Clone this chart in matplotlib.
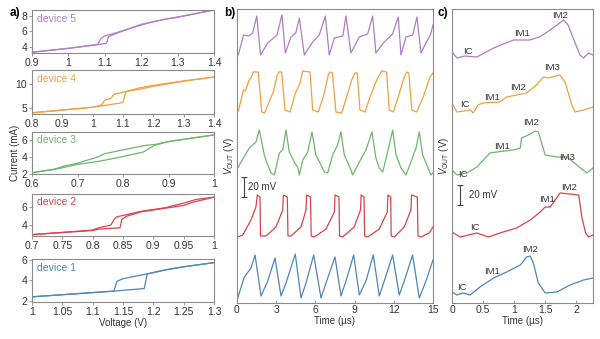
import matplotlib
matplotlib.use("Agg")
import matplotlib.pyplot as plt

plt.rcParams["font.family"] = ["Liberation Sans", "DejaVu Sans"]
plt.rcParams["mathtext.fontset"] = "custom"
plt.rcParams["mathtext.rm"] = "Liberation Sans"
plt.rcParams["mathtext.it"] = "Liberation Sans:italic"

COLORS = ["#4f86b3", "#d9434b", "#6fb56c", "#efa03f", "#b07cc6"]  # device 1..5
SPINE = "#8a8a8a"
TXT = "#333333"

# ---- panel a: I-V hysteresis loops (V, mA) ----
A_XLIM = [(1.0, 1.3), (0.7, 1.0), (0.6, 1.0), (0.8, 1.4), (0.9, 1.4)]
A_YLIM = [(1.9, 6.05), (2.8, 7.4), (1.95, 7.0), (3.65, 13.1), (3.2, 8.75)]
A_XTICKS = [
    [1.0, 1.05, 1.1, 1.15, 1.2, 1.25, 1.3],
    [0.7, 0.75, 0.8, 0.85, 0.9, 0.95, 1.0],
    [0.6, 0.7, 0.8, 0.9, 1.0],
    [0.8, 0.9, 1.0, 1.1, 1.2, 1.3, 1.4],
    [0.9, 1.0, 1.1, 1.2, 1.3, 1.4],
]
A_YTICKS = [[2, 4, 6], [4, 6], [2, 4, 6], [5, 10], [4, 6, 8]]

DEV1_FWD = [(1.0, 2.4), (1.135, 2.95), (1.185, 3.2), (1.19, 4.6), (1.22, 5.0), (1.25, 5.3), (1.3, 5.7)]
DEV1_REV = [(1.3, 5.7), (1.25, 5.3), (1.22, 5.0), (1.19, 4.62), (1.15, 4.15), (1.14, 3.9),
            (1.135, 2.95), (1.0, 2.4)]
DEV2_FWD = [(0.7, 2.95), (0.8, 3.4), (0.81, 3.55), (0.845, 3.7), (0.848, 4.6), (0.855, 4.95),
            (0.88, 5.45), (0.92, 5.85), (0.95, 6.15), (0.965, 6.5), (1.0, 7.05)]
DEV2_REV = [(1.0, 7.05), (0.97, 6.8), (0.95, 6.4), (0.92, 5.9), (0.88, 5.5), (0.86, 5.2),
            (0.84, 4.9), (0.836, 4.7), (0.83, 4.0), (0.81, 3.7), (0.8, 3.45), (0.7, 2.95)]
DEV3_FWD = [(0.6, 2.1), (0.65, 2.5), (0.7, 3.1), (0.75, 3.5), (0.8, 4.05), (0.845, 4.6),
            (0.86, 5.1), (0.87, 5.4), (0.9, 5.85), (1.0, 6.65)]
DEV3_REV = [(1.0, 6.65), (0.9, 5.85), (0.87, 5.5), (0.85, 5.4), (0.8, 4.85), (0.76, 4.4),
            (0.745, 4.0), (0.7, 3.25), (0.67, 2.9), (0.65, 2.55), (0.6, 2.1)]
DEV4_FWD = [(0.8, 3.9), (1.0, 5.1), (1.04, 5.5), (1.09, 6.0), (1.1, 6.2), (1.11, 8.5),
            (1.15, 8.9), (1.2, 9.6), (1.3, 10.7), (1.4, 11.6)]
DEV4_REV = [(1.4, 11.6), (1.3, 10.75), (1.22, 10.0), (1.2, 9.8), (1.15, 9.2), (1.1, 8.3),
            (1.07, 7.9), (1.06, 7.0), (1.04, 6.6), (1.03, 5.6), (1.0, 5.1), (0.8, 3.9)]
DEV5_FWD = [(0.9, 3.3), (1.0, 3.8), (1.085, 4.3), (1.105, 4.45), (1.11, 5.3), (1.13, 5.7),
            (1.2, 6.9), (1.24, 7.3), (1.27, 7.6), (1.3, 7.8), (1.4, 8.75)]
DEV5_REV = [(1.4, 8.75), (1.3, 7.85), (1.26, 7.5), (1.23, 7.2), (1.2, 6.8), (1.13, 5.8),
            (1.1, 5.4), (1.09, 5.1), (1.08, 4.3), (1.0, 3.8), (0.9, 3.3)]
A_LOOPS = [(DEV1_FWD, DEV1_REV), (DEV2_FWD, DEV2_REV), (DEV3_FWD, DEV3_REV),
           (DEV4_FWD, DEV4_REV), (DEV5_FWD, DEV5_REV)]

# ---- panel b: oscillation traces over 15 us (mV above each trace's baseline) ----
B_DEV1 = [(0.05, 0), (0.56, 21), (1.07, 30), (1.38, 43), (1.84, 2), (2.35, 17), (2.91, 40),
          (3.37, 2), (3.75, 15), (4.46, 44), (4.9, 0), (5.28, 15), (5.87, 43), (6.43, 0),
          (6.81, 15), (7.5, 41), (7.96, 2), (8.34, 17), (8.93, 43), (9.36, 3), (9.87, 17),
          (10.43, 43), (10.89, 2), (11.27, 17), (11.91, 43), (12.42, 3), (12.8, 17),
          (13.44, 43), (13.95, 0), (14.46, 17), (15.0, 38)]
B_DEV2 = [(0.05, 0), (0.44, 2), (1.07, 17), (1.45, 30), (1.55, 42), (1.76, 40), (1.8, 1),
          (2.22, 1), (2.98, 10), (3.5, 27), (3.55, 42), (3.85, 40), (3.9, 1), (4.13, 1),
          (4.9, 10), (5.28, 27), (5.33, 42), (5.62, 40), (5.68, 1), (5.92, 0), (6.81, 8),
          (7.45, 25), (7.5, 42), (7.8, 40), (7.85, 1), (8.09, 0), (8.97, 10), (9.45, 27),
          (9.5, 42), (9.72, 40), (9.77, 1), (10.0, 0), (10.89, 8), (11.5, 25), (11.55, 42),
          (11.76, 40), (11.8, 1), (12.04, 0), (12.8, 10), (13.31, 27), (13.36, 42),
          (13.8, 40), (13.85, 1), (14.08, 0), (14.71, 4), (15.0, 10)]
B_DEV3 = [(0.05, 7), (0.94, 27), (1.45, 33), (1.71, 45), (2.09, 20), (2.35, 10), (2.6, 2),
          (2.86, 0), (3.24, 22), (3.5, 25), (3.75, 45), (4.0, 23), (4.38, 13), (4.64, 8),
          (4.77, 0), (5.03, 15), (5.41, 23), (5.74, 43), (6.04, 20), (6.43, 10), (6.68, 3),
          (6.94, 2), (7.32, 20), (7.7, 30), (7.96, 43), (8.21, 20), (8.72, 5), (8.85, 0),
          (9.36, 13), (9.87, 25), (10.33, 43), (10.63, 17), (10.89, 7), (11.15, 3),
          (11.53, 23), (11.91, 45), (12.17, 20), (12.55, 7), (12.93, 0), (13.31, 13),
          (13.7, 27), (13.95, 43), (14.21, 20), (14.59, 8), (14.84, 0), (15.0, 2)]
B_DEV4 = [(0.1, 2), (0.5, 23), (0.65, 22), (0.9, 32), (1.1, 36), (1.25, 41), (1.63, 41),
          (1.89, 1), (2.1, 0), (2.52, 13), (2.78, 21), (3.04, 36), (3.2, 41), (3.42, 41),
          (3.67, 3), (4.06, 1), (4.44, 19), (4.82, 30), (5.03, 42), (5.59, 41), (5.79, 3),
          (6.22, 1), (6.6, 16), (6.99, 38), (7.12, 41), (7.3, 40), (7.57, 1), (8.01, 0),
          (8.39, 16), (8.78, 33), (9.03, 40), (9.2, 40), (9.41, 3), (9.8, 1), (10.18, 16),
          (10.69, 33), (11.07, 42), (11.45, 41), (11.65, 3), (11.96, 1), (12.34, 16),
          (12.73, 33), (12.98, 41), (13.15, 40), (13.37, 3), (13.75, 1), (14.25, 16),
          (14.77, 36), (15.0, 40)]
B_DEV5 = [(0.1, 0), (0.5, 20), (0.9, 19), (1.2, 22), (1.51, 39), (1.8, 0), (2.35, 12),
          (3.06, 20), (3.44, 40), (3.7, 2), (4.13, 18), (4.5, 22), (4.77, 37), (5.15, 0),
          (5.79, 13), (6.3, 20), (6.76, 39), (7.06, 0), (7.45, 17), (8.1, 19), (8.34, 39),
          (8.72, 2), (9.36, 18), (10.0, 21), (10.38, 39), (10.63, 2), (11.27, 13),
          (11.9, 21), (12.34, 38), (12.55, 0), (12.93, 18), (13.45, 20), (13.77, 38),
          (14.08, 2), (14.46, 12), (14.8, 20), (15.0, 30)]
B_TRACES = [B_DEV1, B_DEV2, B_DEV3, B_DEV4, B_DEV5]
B_OFFSETS = [5, 66, 128, 190, 248]

# ---- panel c: single spike, 0-2.27 us (mV, stacked) ----
C_DEV1 = [(0, 11), (0.08, 8), (0.18, 10), (0.29, 8), (0.45, 16), (0.67, 25), (0.88, 31),
          (1.1, 38), (1.2, 46), (1.26, 47), (1.31, 40), (1.39, 20), (1.5, 10), (1.69, 11),
          (1.9, 18), (2.12, 23), (2.27, 25)]
C_DEV2 = [(0, 71), (0.13, 66), (0.4, 70), (0.59, 66), (0.77, 70), (1.04, 75), (1.26, 83),
          (1.42, 91), (1.5, 96), (1.58, 96), (1.66, 103), (1.74, 110), (1.9, 109),
          (2.04, 108), (2.09, 86), (2.15, 70), (2.2, 66), (2.27, 68)]
C_DEV3 = [(0, 133), (0.08, 128), (0.24, 130), (0.4, 136), (0.61, 150), (0.72, 151),
          (0.99, 153), (1.1, 155), (1.12, 165), (1.23, 168), (1.34, 172), (1.39, 171),
          (1.5, 148), (1.69, 146), (1.85, 146), (2.01, 138), (2.17, 130), (2.27, 135)]
C_DEV4 = [(0, 200), (0.08, 191), (0.3, 193), (0.34, 190), (0.42, 198), (0.5, 200),
          (0.77, 201), (0.88, 206), (1.2, 210), (1.36, 218), (1.47, 226), (1.55, 225),
          (1.74, 228), (1.82, 221), (1.93, 198), (1.98, 191), (2.12, 193), (2.27, 196)]
C_DEV5 = [(0, 251), (0.08, 245), (0.2, 247), (0.4, 246), (0.67, 255), (0.99, 263),
          (1.25, 263), (1.41, 266), (1.58, 273), (1.8, 283), (1.87, 278), (1.95, 265),
          (2.06, 248), (2.12, 245), (2.2, 250), (2.27, 248)]
C_TRACES = [C_DEV1, C_DEV2, C_DEV3, C_DEV4, C_DEV5]
C_LABELS = [
    ("IC", 0.16, 16), ("IM1", 0.64, 31), ("IM2", 1.26, 53),
    ("IC", 0.37, 75), ("IM1", 1.53, 103), ("IM2", 1.88, 115),
    ("IC", 0.18, 128), ("IM1", 0.8, 156), ("IM2", 1.28, 180), ("IM3", 1.85, 145),
    ("IC", 0.21, 198), ("IM1", 0.64, 205), ("IM2", 1.07, 215), ("IM3", 1.61, 235),
    ("IC", 0.26, 251), ("IM1", 1.12, 269), ("IM2", 1.74, 288),
]

W, H = 600, 339
fig = plt.figure(figsize=(W / 100, H / 100), dpi=100)


def px_axes(left, top, right, bottom):
    return fig.add_axes([left / W, 1 - bottom / H, (right - left) / W, (bottom - top) / H])


def style(ax, direction="out"):
    for s in ax.spines.values():
        s.set_color(SPINE)
        s.set_linewidth(0.8)
    ax.tick_params(direction=direction, length=2, width=0.6, colors=SPINE,
                   labelcolor=TXT, labelsize=7.5, pad=1.5)


# panel a
A_BOXES = [(259, 302), (194, 236), (132, 174), (70, 114), (10, 53)]
for i, (top, bot) in enumerate(A_BOXES):
    ax = px_axes(32, top, 214, bot)
    fwd, rev = A_LOOPS[i]
    ax.plot([p[0] for p in fwd], [p[1] for p in fwd], color=COLORS[i], lw=0.9)
    ax.plot([p[0] for p in rev], [p[1] for p in rev], color=COLORS[i], lw=0.9)
    ax.set_xlim(A_XLIM[i])
    ax.set_ylim(A_YLIM[i])
    ax.set_xticks(A_XTICKS[i])
    ax.set_xticklabels([f"{v:g}" for v in A_XTICKS[i]])
    ax.set_yticks(A_YTICKS[i])
    ax.text(0.03, 0.8, f"device {i + 1}", transform=ax.transAxes, color=COLORS[i],
            fontsize=7.5, va="center")
    style(ax)
    if i == 0:
        ax.set_xlabel("Voltage (V)", fontsize=7, color=TXT, labelpad=1)
fig.text(15 / W, 1 - 153 / H, "Current (mA)", rotation=90, ha="center", va="center",
         fontsize=7, color=TXT)

# panel b
axb = px_axes(237, 9, 433, 303)
for i, tr in enumerate(B_TRACES):
    axb.plot([p[0] for p in tr], [p[1] + B_OFFSETS[i] for p in tr], color=COLORS[i], lw=0.9)
axb.set_xlim(0, 15)
axb.set_ylim(0, 294)
axb.set_xticks([0, 3, 6, 9, 12, 15])
axb.set_yticks([])
axb.set_xlabel("Time (µs)", fontsize=7, color=TXT, labelpad=1)
axb.set_ylabel(r"$V_{\rm OUT}$ (V)", fontsize=7, color=TXT, labelpad=1)
axb.errorbar([0.55], [116], yerr=[10], color="#444444", capsize=2, lw=0.8, capthick=0.8)
axb.text(0.85, 116, "20 mV", fontsize=7, color=TXT, va="center")
style(axb, "in")

# panel c
axc = px_axes(452, 9, 593, 303)
for i, tr in enumerate(C_TRACES):
    axc.plot([p[0] for p in tr], [p[1] for p in tr], color=COLORS[i], lw=0.9)
for txt, t, v in C_LABELS:
    axc.text(t, v, txt, fontsize=6.8, color=TXT, ha="center", va="center")
axc.set_xlim(0, 2.27)
axc.set_ylim(0, 294)
axc.set_xticks([0, 0.5, 1, 1.5, 2])
axc.set_xticklabels(["0", "0.5", "1", "1.5", "2"])
axc.set_yticks([])
axc.set_xlabel("Time (µs)", fontsize=7, color=TXT, labelpad=1)
axc.set_ylabel(r"$V_{\rm OUT}$ (V)", fontsize=7, color=TXT, labelpad=1)
axc.errorbar([0.13], [108], yerr=[10], color="#444444", capsize=2, lw=0.8, capthick=0.8)
axc.text(0.28, 108, "20 mV", fontsize=7, color=TXT, va="center")
style(axc, "in")

for lbl, x in [("a)", 10), ("b)", 224), ("c)", 438)]:
    fig.text(x / W, 1 - 13 / H, lbl, fontsize=8.5, fontweight="bold", va="center")

fig.savefig("out.png", dpi=100)
